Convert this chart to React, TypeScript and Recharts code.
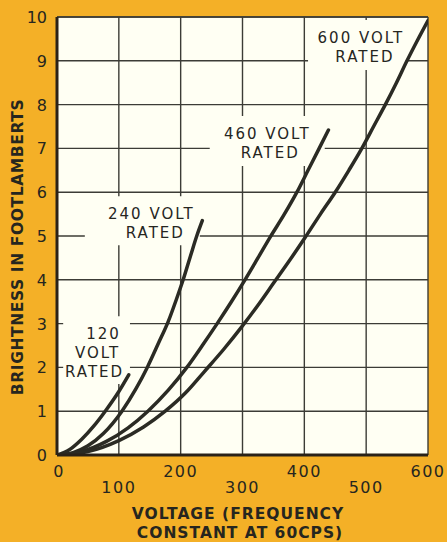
import { CartesianGrid, Line, LineChart, ReferenceArea, ReferenceLine, XAxis, YAxis } from 'recharts';

const ORANGE = '#F4B027';
const PAPER = '#FFFFF3';
const INK = '#26261f';
const FONT = '"DejaVu Sans", sans-serif';

const X_TICKS = [0, 100, 200, 300, 400, 500, 600];
const Y_TICKS = [0, 1, 2, 3, 4, 5, 6, 7, 8, 9, 10];

// brightness (footlamberts), [voltage, brightness]
const V120 = [
  [0, 0], [20, 0.12], [40, 0.36], [60, 0.67], [78, 1.0], [100, 1.45], [116, 1.83],
];
const V240 = [
  [0, 0], [25, 0.05], [50, 0.21], [75, 0.49], [105, 1.0], [128, 1.52], [146, 2],
  [164, 2.55], [180, 3.05], [193, 3.55], [204, 4], [216, 4.55], [226, 5], [235, 5.35],
];
const V460 = [
  [0, 0], [40, 0.08], [80, 0.31], [115, 0.62], [147, 1.0], [180, 1.48], [210, 2],
  [235, 2.5], [259, 3], [282, 3.5], [304, 4], [325, 4.5], [345, 4.98], [367, 5.48],
  [388, 6], [406, 6.5], [424, 7], [439, 7.42],
];
const V600 = [
  [0, 0], [50, 0.08], [100, 0.33], [140, 0.64], [175, 1.0], [208, 1.42], [238, 1.9],
  [270, 2.42], [299, 2.93], [325, 3.42], [350, 3.92], [376, 4.44], [401, 4.96], [426, 5.5],
  [450, 6], [472, 6.5], [493, 7], [512, 7.5], [531, 8], [549, 8.5], [566, 9],
  [583, 9.47], [600, 9.92],
];

const toPoints = (rows: number[][]) => rows.map(([x, y]) => ({ x, y }));

const SERIES = [
  { name: '120', data: toPoints(V120) },
  { name: '240', data: toPoints(V240) },
  { name: '460', data: toPoints(V460) },
  { name: '600', data: toPoints(V600) },
];

// white patches that break the grid behind the curve labels
const LABELS = [
  { x1: 406, x2: 564, y1: 8.79, y2: 9.93, lines: [['600 VOLT', 4], ['RATED', 8]] },
  { x1: 247, x2: 433, y1: 6.6, y2: 7.74, lines: [['460 VOLT', 0], ['RATED', 3]] },
  { x1: 45, x2: 231, y1: 4.79, y2: 5.91, lines: [['240 VOLT', 9], ['RATED', 13]] },
  { x1: 10, x2: 118, y1: 1.62, y2: 3.17, lines: [['120', 7], ['VOLT', 1], ['RATED', -2]] },
];

function LabelText({ viewBox, lines }: any) {
  const { x, y, width } = viewBox;
  const cx = x + width / 2;
  return (
    <g>
      {lines.map(([t, dx]: [string, number], i: number) => (
        <text
          key={t}
          x={cx + dx}
          y={y + 23 + i * 19}
          textAnchor="middle"
          fontFamily={FONT}
          fontSize={15}
          letterSpacing={2}
          fill={INK}
        >
          {t}
        </text>
      ))}
    </g>
  );
}

// staggered labels: even hundreds on the upper row, odd on the lower
function XTick({ x, y, payload }: any) {
  const upper = payload.value % 200 === 0;
  return (
    <text
      x={x + (payload.value === 0 ? 2 : 0)}
      y={y + (upper ? 14 : 30)}
      textAnchor="middle"
      fontFamily={FONT}
      fontSize={16}
      letterSpacing={1.5}
      fill={INK}
    >
      {payload.value}
    </text>
  );
}

function YTick({ x, y, payload }: any) {
  return (
    <text x={x - 2} y={y + 6} textAnchor="end" fontFamily={FONT} fontSize={16} fill={INK}>
      {payload.value}
    </text>
  );
}

export default function App() {
  return (
    <div style={{ position: 'absolute', left: 0, top: 0, width: 447, height: 542, background: ORANGE }}>
      <LineChart width={447} height={542} margin={{ top: 17, right: 19, bottom: 0, left: 0 }}>
        <CartesianGrid stroke="#3c3c36" strokeWidth={1.4} fill={PAPER} />
        <XAxis
          dataKey="x"
          type="number"
          domain={[0, 600]}
          ticks={X_TICKS}
          height={87}
          tickLine={false}
          axisLine={{ stroke: '#2a2218', strokeWidth: 3 }}
          tick={<XTick />}
          interval={0}
          allowDataOverflow
        />
        <YAxis
          type="number"
          domain={[0, 10]}
          ticks={Y_TICKS}
          width={57}
          tickLine={false}
          axisLine={{ stroke: '#2a2218', strokeWidth: 3 }}
          tick={<YTick />}
          interval={0}
          allowDataOverflow
        />
        <ReferenceLine y={10} stroke="#3c3c36" strokeWidth={1.5} />
        {LABELS.map((l) => (
          <ReferenceArea
            key={l.lines[0][0] as string}
            x1={l.x1}
            x2={l.x2}
            y1={l.y1}
            y2={l.y2}
            fill={PAPER}
            fillOpacity={1}
            stroke="none"
            label={{ content: (p: any) => <LabelText viewBox={p.viewBox} lines={l.lines} /> }}
          />
        ))}
        {SERIES.map((s) => (
          <Line
            key={s.name}
            data={s.data}
            dataKey="y"
            type="monotone"
            stroke="#2b2b24"
            strokeWidth={3.5}
            strokeLinecap="round"
            dot={false}
            isAnimationActive={false}
          />
        ))}
      </LineChart>
      <svg width={447} height={542} style={{ position: 'absolute', left: 0, top: 0, pointerEvents: 'none' }}>
        <text
          transform="translate(23 247) rotate(-90)"
          textAnchor="middle"
          fontFamily={FONT}
          fontSize={15.5}
          fontWeight="bold"
          letterSpacing={0.6}
          fill={INK}
        >
          BRIGHTNESS IN FOOTLAMBERTS
        </text>
        <text x={238} y={519} textAnchor="middle" fontFamily={FONT} fontSize={15.5} fontWeight="bold" letterSpacing={1} fill={INK}>
          VOLTAGE (FREQUENCY
        </text>
        <text x={240} y={538} textAnchor="middle" fontFamily={FONT} fontSize={15.5} fontWeight="bold" letterSpacing={1} fill={INK}>
          CONSTANT AT 60CPS)
        </text>
      </svg>
    </div>
  );
}
